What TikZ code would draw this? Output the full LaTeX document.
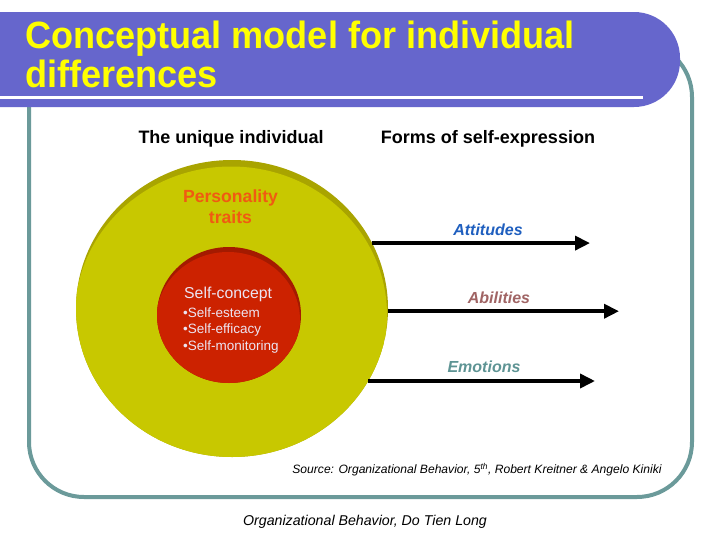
\documentclass[tikz,border=0pt]{standalone}
\usepackage{fontspec}
\setmainfont{Liberation Sans}
\newfontfamily\titlefont[FakeStretch=0.95]{Liberation Sans}
\usetikzlibrary{shapes.geometric,arrows.meta}
\definecolor{barblue}{HTML}{6666CC}
\definecolor{titleyellow}{HTML}{FFFF00}
\definecolor{frameteal}{HTML}{6B9A9A}
\definecolor{olivemain}{HTML}{C8C800}
\definecolor{olivedark}{HTML}{A9A400}
\definecolor{redmain}{HTML}{CC2200}
\definecolor{reddark}{HTML}{A41A00}
\definecolor{persorange}{HTML}{F05A12}
\definecolor{selftext}{HTML}{ECE4F2}
\definecolor{attblue}{HTML}{1F5FBF}
\definecolor{abirose}{HTML}{A06464}
\definecolor{emoteal}{HTML}{5E9494}
\tikzset{
  titletext/.style={anchor=base west, text=titleyellow, inner sep=0, font=\titlefont\bfseries\fontsize{38}{38}\selectfont},
  header/.style={inner sep=0, font=\bfseries\fontsize{18}{20}\selectfont},
  formlabel/.style={inner sep=0, font=\bfseries\itshape\fontsize{16}{18}\selectfont},
  selfline/.style={anchor=west, inner sep=0, text=selftext, font=\fontsize{13.5}{15}\selectfont},
  arr/.style={line width=3.6pt, -{Triangle[length=15pt,width=14pt]}},
}
\begin{document}
\begin{tikzpicture}[x=1pt,y=-1pt]
\useasboundingbox (0,0) rectangle (728,546);
\fill[white] (0,0) rectangle (728,546);
% frame
\draw[frameteal, line width=4pt, rounded corners=55pt] (29,42) rectangle (692,497);
% title bar
\fill[barblue, rounded corners=46pt] (-60,12) rectangle (680,107);
\draw[white, line width=3pt] (-5,97) -- (643,97);
\node[titletext] (t1) at (25,48) {Conceptual model for individual};
\node[titletext] (t2) at (25,87) {differences};
% headers
\node[header] (h1) at (231,139) {The unique individual};
\node[header] (h2) at (488,139) {Forms of self-expression};
% big circle
\node[ellipse, fill=olivedark, minimum width=312, minimum height=297, inner sep=0] (big) at (232,308.5) {};
\begin{scope}
\clip (232,308.5) ellipse [x radius=156, y radius=148.5];
\fill[olivemain] (231,315) ellipse [x radius=156, y radius=148.5];
\end{scope}
% inner circle
\node[ellipse, fill=reddark, minimum width=144, minimum height=136, inner sep=0] (inner) at (229,315) {};
\begin{scope}
\clip (229,315) ellipse [x radius=72, y radius=68];
\fill[redmain] (228,320) ellipse [x radius=72, y radius=68];
\end{scope}
\node[inner sep=0, align=center, text=persorange, font=\bfseries\fontsize{17.6}{21}\selectfont] (pers) at (230.5,207) {Personality\\traits};
\node[selfline, font=\fontsize{15.8}{18}\selectfont] (sc) at (184,294) {Self-concept};
\node[selfline] (s1) at (183,313) {•Self-esteem};
\node[selfline] (s2) at (183,330) {•Self-efficacy};
\node[selfline] (s3) at (183,347) {•Self-monitoring};
% arrows
\coordinate (e1) at (590,0);
\coordinate (e2) at (619,0);
\coordinate (e3) at (595,0);
\draw[arr] (big.25.7) -- (big.25.7 -| e1);
\draw[arr] (big.-1.7) -- (big.-1.7 -| e2);
\draw[arr] (big.-28.5) -- (big.-28.5 -| e3);
\node[formlabel, text=attblue] (l1) at (488,230) {Attitudes};
\node[formlabel, text=abirose] (l2) at (499,298) {Abilities};
\node[formlabel, text=emoteal] (l3) at (484,367) {Emotions};
% source and footer
\node[inner sep=0, font=\itshape\fontsize{12.1}{14}\selectfont] (src) at (477,470) {Source: Organizational Behavior, 5\textsuperscript{th}, Robert Kreitner \& Angelo Kiniki};
\node[inner sep=0, font=\itshape\fontsize{14.2}{16}\selectfont] (foot) at (365,522) {Organizational Behavior, Do Tien Long};
\end{tikzpicture}
\end{document}
